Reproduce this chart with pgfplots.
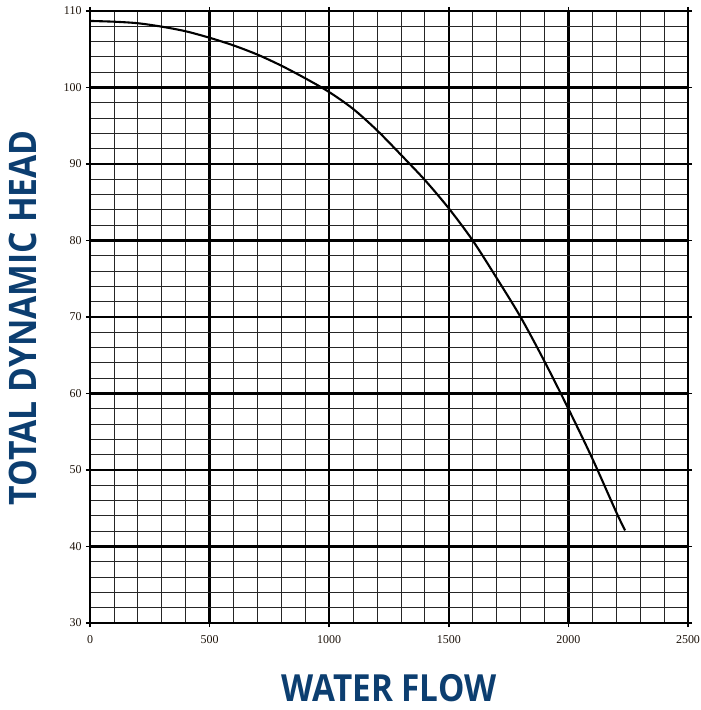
\documentclass[border=0pt]{standalone}
\usepackage{fontspec}
\setmainfont{Liberation Serif}
\newfontfamily\labelfont[FakeStretch=0.89]{Open Sans}
\usepackage{pgfplots}
\pgfplotsset{compat=1.18}
\definecolor{labblue}{RGB}{12,62,112}
\begin{document}
\begin{tikzpicture}
\begin{axis}[
  scale only axis,
  width=598bp, height=612bp,
  xmin=0, xmax=2500, ymin=30, ymax=110,
  xtick={0,500,...,2500},
  minor xtick={0,100,...,2500},
  ytick={30,40,...,110},
  minor ytick={30,32,...,110},
  grid=both,
  major grid style={black, line width=2.4bp},
  minor grid style={black!85, line width=0.8bp},
  axis line style={black, line width=2.4bp},
  tick align=outside,
  major tick length=4bp,
  minor tick length=0bp,
  major tick style={black, line width=1.5bp},
  /pgf/number format/assume math mode=true,
  /pgf/number format/1000 sep={},
  tick label style={font=\fontsize{12}{13}\selectfont, text=black!85!brown},
  xticklabel style={yshift=-5bp},
  yticklabel style={xshift=-1bp},
  xlabel={\labelfont\bfseries\fontsize{37.5}{39}\selectfont WATER FLOW},
  xlabel style={at={(axis description cs:0.5,-0.106)}, anchor=center, text=labblue},
  ylabel={\labelfont\bfseries\fontsize{38}{40}\selectfont TOTAL DYNAMIC HEAD},
  ylabel style={at={(axis description cs:-0.112,0.499)}, anchor=center, rotate=0, text=labblue},
]
\addplot[black, line width=2.1bp, smooth] coordinates {
(0,108.7) (100,108.6) (200,108.4) (300,107.95) (400,107.35) (500,106.5)
(600,105.5) (700,104.3) (800,102.85) (900,101.2) (1000,99.4) (1100,97.2)
(1200,94.4) (1300,91.2) (1400,87.9) (1500,84.2) (1600,80.0) (1700,75.1)
(1800,70.0) (1900,64.2) (2000,58.0) (2100,51.5) (2200,44.5) (2237,42.1)
};
\end{axis}
\pgfresetboundingbox
\path[use as bounding box] (-90bp,-87bp) rectangle (611bp,623bp);
\end{tikzpicture}
\end{document}
